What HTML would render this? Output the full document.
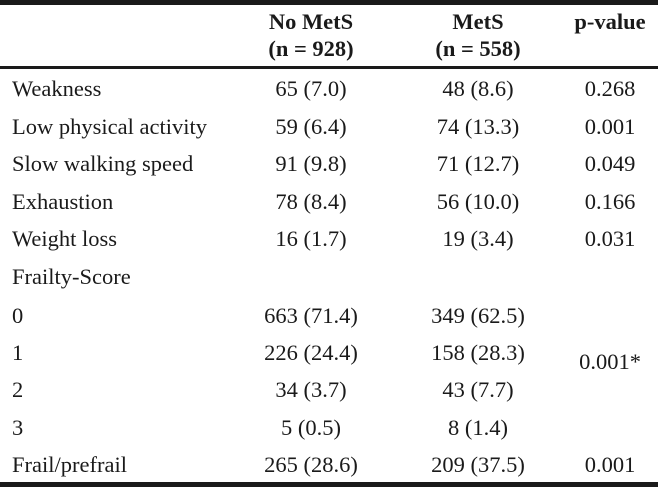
<!DOCTYPE html>
<html><head><style>
body{margin:0;width:658px;height:488px;background:#fff;position:relative;font-family:"Liberation Serif",serif;font-size:22.5px;color:#1a1a1a;overflow:hidden}
.b{position:absolute;left:0;width:658px;background:#1a1a1a}
.t{position:absolute;line-height:20px;white-space:nowrap}
.c{transform:translateX(-50%)}
.h{font-weight:bold}
</style></head><body>
<div class="b" style="top:0;height:5px"></div>
<div class="b" style="top:66px;height:3px"></div>
<div class="b" style="top:482px;height:5px"></div>

<div class="t c h" style="left:311px;top:12px">No MetS</div>
<div class="t c h" style="left:311px;top:39px">(n = 928)</div>
<div class="t c h" style="left:478px;top:12px">MetS</div>
<div class="t c h" style="left:478px;top:39px">(n = 558)</div>
<div class="t c h" style="left:610px;top:12px">p-value</div>

<div class="t" style="left:12px;top:79px">Weakness</div>
<div class="t c" style="left:311px;top:79px">65 (7.0)</div>
<div class="t c" style="left:478px;top:79px">48 (8.6)</div>
<div class="t c" style="left:610px;top:79px">0.268</div>

<div class="t" style="left:12px;top:117px">Low physical activity</div>
<div class="t c" style="left:311px;top:117px">59 (6.4)</div>
<div class="t c" style="left:478px;top:117px">74 (13.3)</div>
<div class="t c" style="left:610px;top:117px">0.001</div>

<div class="t" style="left:12px;top:154px">Slow walking speed</div>
<div class="t c" style="left:311px;top:154px">91 (9.8)</div>
<div class="t c" style="left:478px;top:154px">71 (12.7)</div>
<div class="t c" style="left:610px;top:154px">0.049</div>

<div class="t" style="left:12px;top:192px">Exhaustion</div>
<div class="t c" style="left:311px;top:192px">78 (8.4)</div>
<div class="t c" style="left:478px;top:192px">56 (10.0)</div>
<div class="t c" style="left:610px;top:192px">0.166</div>

<div class="t" style="left:12px;top:229px">Weight loss</div>
<div class="t c" style="left:311px;top:229px">16 (1.7)</div>
<div class="t c" style="left:478px;top:229px">19 (3.4)</div>
<div class="t c" style="left:610px;top:229px">0.031</div>

<div class="t" style="left:12px;top:267px">Frailty-Score</div>

<div class="t" style="left:12px;top:306px">0</div>
<div class="t c" style="left:311px;top:306px">663 (71.4)</div>
<div class="t c" style="left:478px;top:306px">349 (62.5)</div>

<div class="t" style="left:12px;top:343px">1</div>
<div class="t c" style="left:311px;top:343px">226 (24.4)</div>
<div class="t c" style="left:478px;top:343px">158 (28.3)</div>
<div class="t c" style="left:610px;top:352px">0.001*</div>

<div class="t" style="left:12px;top:380px">2</div>
<div class="t c" style="left:311px;top:380px">34 (3.7)</div>
<div class="t c" style="left:478px;top:380px">43 (7.7)</div>

<div class="t" style="left:12px;top:418px">3</div>
<div class="t c" style="left:311px;top:418px">5 (0.5)</div>
<div class="t c" style="left:478px;top:418px">8 (1.4)</div>

<div class="t" style="left:12px;top:455px">Frail/prefrail</div>
<div class="t c" style="left:311px;top:455px">265 (28.6)</div>
<div class="t c" style="left:478px;top:455px">209 (37.5)</div>
<div class="t c" style="left:610px;top:455px">0.001</div>
</body></html>
